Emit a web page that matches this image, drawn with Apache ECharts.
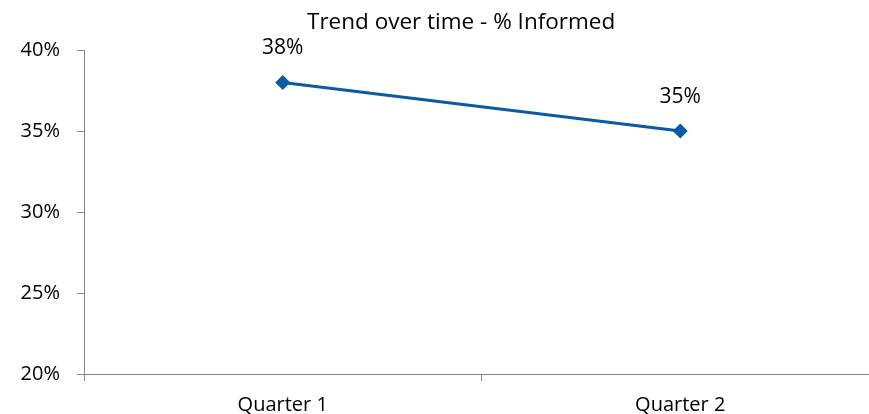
<!DOCTYPE html>
<html>
<head>
<meta charset="utf-8">
<script src="https://cdn.jsdelivr.net/npm/echarts@6/dist/echarts.min.js"></script>
<style>
  html, body { margin: 0; padding: 0; background: #fff; }
  #chart { width: 869px; height: 414px; }
</style>
</head>
<body>
<div id="chart"></div>
<script>
// data
const quarters = ['Quarter 1', 'Quarter 2']
const informed = [38, 35]
const yTicks = { min: 20, max: 40, step: 5 }

const chart = echarts.init(document.getElementById('chart'))
const font = '"Open Sans", "Liberation Sans", sans-serif'
const axisGrey = '#868686'

chart.setOption({
  animation: false,
  title: {
    text: 'Trend over time - % Informed',
    left: 302,
    top: 6,
    textStyle: { fontFamily: font, fontSize: 22.5, fontWeight: 'normal', color: '#000' }
  },
  // plot area runs a little past the right edge, as in the reference
  grid: { left: 84, width: 795, top: 50, bottom: 40, outerBoundsMode: 'none' },
  xAxis: {
    type: 'category',
    data: quarters,
    boundaryGap: true,
    axisLine: { lineStyle: { color: axisGrey, width: 1 } },
    axisTick: { show: true, length: 7, lineStyle: { color: axisGrey } },
    axisLabel: { fontFamily: font, fontSize: 20, color: '#000', margin: 21 }
  },
  yAxis: {
    type: 'value',
    min: yTicks.min,
    max: yTicks.max,
    interval: yTicks.step,
    splitLine: { show: false },
    axisLine: { show: true, lineStyle: { color: axisGrey, width: 1 } },
    axisTick: { show: true, length: 7, lineStyle: { color: axisGrey } },
    axisLabel: {
      fontFamily: font, fontSize: 20, color: '#000', margin: 24,
      formatter: v => v + '%'
    }
  },
  series: [{
    type: 'line',
    data: informed,
    symbol: 'diamond',
    symbolSize: 15,
    lineStyle: { color: '#0b5aa4', width: 3 },
    itemStyle: { color: '#0b5aa4' },
    label: {
      show: true,
      position: 'top',
      distance: 16,
      fontFamily: font,
      fontSize: 21,
      color: '#000',
      formatter: p => p.value + '%'
    }
  }]
})
</script>
</body>
</html>
